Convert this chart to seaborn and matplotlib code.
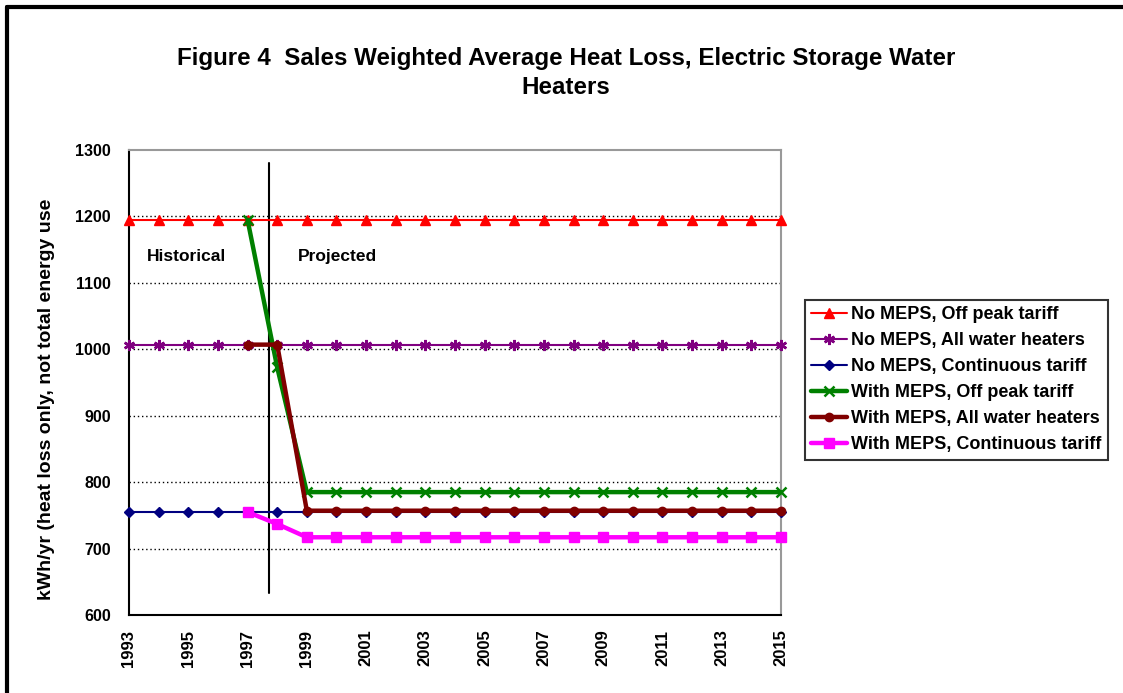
import numpy as np
import pandas as pd
import matplotlib
matplotlib.use("Agg")
import matplotlib.pyplot as plt
from matplotlib.lines import Line2D
import seaborn as sns

# Years covered by the chart
years = list(range(1993, 2016))

# Sales weighted average heat loss, kWh/yr
no_meps_off_peak = [1195] * 23
no_meps_all = [1007] * 23
no_meps_continuous = [755] * 23
with_meps_off_peak = [np.nan] * 4 + [1195, 973] + [785] * 17
with_meps_all = [np.nan] * 4 + [1007, 1007] + [757] * 17
with_meps_continuous = [np.nan] * 4 + [755, 737] + [717] * 17

series_labels = [
    "No MEPS, Off peak tariff",
    "No MEPS, All water heaters",
    "No MEPS, Continuous tariff",
    "With MEPS, Off peak tariff",
    "With MEPS, All water heaters",
    "With MEPS, Continuous tariff",
]
series_values = [no_meps_off_peak, no_meps_all, no_meps_continuous,
                 with_meps_off_peak, with_meps_all, with_meps_continuous]
series_colors = ["#FF0000", "#800080", "#000080", "#008000", "#800000", "#FF00FF"]
series_markers = ["^", (6, 2, 0), "D", "x", "o", "s"]
series_msize = [7, 8, 5, 7, 6, 7]
series_lw = [1.5, 1.5, 1.5, 3.2, 3.2, 3.2]

title = "Figure 4  Sales Weighted Average Heat Loss, Electric Storage Water\nHeaters"
ylabel = "kWh/yr (heat loss only, not total energy use"

sns.set_style("white")
plt.rcParams["font.family"] = ["Liberation Sans", "DejaVu Sans"]
plt.rcParams["font.weight"] = "bold"
plt.rcParams["text.color"] = "black"
plt.rcParams["xtick.color"] = "black"
plt.rcParams["ytick.color"] = "black"

W, H = 1123, 693
fig = plt.figure(figsize=(W / 100, H / 100), dpi=100)
ax = fig.add_axes([129 / W, 1 - 615 / H, (781 - 129) / W, (615 - 150) / H])

for lab, vals, col, mk, ms, lw in zip(series_labels, series_values, series_colors,
                                       series_markers, series_msize, series_lw):
    df = pd.DataFrame({"year": years, "value": vals}).dropna()
    sns.lineplot(data=df, x="year", y="value", ax=ax, color=col, marker=mk,
                 markersize=ms, linewidth=lw, markeredgecolor=col,
                 markeredgewidth=1.8 if mk in ("x", (6, 2, 0)) else 1,
                 label=lab, legend=False, clip_on=False, zorder=3)

ax.set_xlim(1993, 2015)
ax.set_ylim(600, 1300)
ax.set_xticks(years)
ax.set_xticklabels([str(y) if (y - 1993) % 2 == 0 else "" for y in years],
                   rotation=90, fontsize=12, fontweight="bold")
ax.set_yticks(range(600, 1301, 100))
ax.set_yticklabels([str(v) for v in range(600, 1301, 100)], fontsize=11.5, fontweight="bold")
ax.tick_params(axis="x", direction="inout", length=9, width=1.5, pad=6, colors="black")
ax.tick_params(axis="y", direction="out", length=5, width=1.5, pad=8, colors="black")
ax.set_xlabel("")
ax.set_ylabel("")

# Dotted horizontal gridlines
for v in range(700, 1300, 100):
    ax.axhline(v, color="black", linestyle=(0, (1, 2)), linewidth=1.0, zorder=1)

for side in ("left", "bottom"):
    ax.spines[side].set_color("black")
    ax.spines[side].set_linewidth(1.5)
ax.spines["top"].set_color("#999999")
ax.spines["top"].set_linewidth(1.5)
ax.spines["top"].set_linestyle((0, (2, 1)))
ax.spines["right"].set_color("#999999")
ax.spines["right"].set_linewidth(1.5)

# Divider between historical and projected periods
ax.plot([1997.73, 1997.73], [633, 1280], color="black", linewidth=1.5, zorder=2)
ax.text(1993.6, 1139, "Historical", fontsize=12.5, fontweight="bold", va="center", ha="left")
ax.text(1998.7, 1140, "Projected", fontsize=12.5, fontweight="bold", va="center", ha="left")

fig.text(566 / W, 1 - 73 / H, title, ha="center", va="center", fontsize=17.4,
         fontweight="bold", linespacing=1.3)
fig.text(47 / W, 1 - 600 / H, ylabel, rotation=90, ha="center", va="bottom",
         fontsize=14, fontweight="bold")

handles, labels = ax.get_legend_handles_labels()
leg = fig.legend(handles, labels, loc="upper left",
                 bbox_to_anchor=(805 / W, 1 - 300 / H), borderaxespad=0,
                 frameon=True, fancybox=False, edgecolor="black",
                 fontsize=13, handlelength=2.0, handletextpad=0.2,
                 labelspacing=0.5, borderpad=0.35)
leg.get_frame().set_linewidth(1.5)
for t in leg.get_texts():
    t.set_fontweight("bold")
    t.set_color("black")

# Outer figure frame (left and top edges)
fig.add_artist(Line2D([7 / W, 7 / W], [-0.1, 1 - 7 / H], color="black", linewidth=3,
                      transform=fig.transFigure))
fig.add_artist(Line2D([7 / W, 1.1], [1 - 7 / H, 1 - 7 / H], color="black", linewidth=3,
                      transform=fig.transFigure))

fig.savefig("out.png", dpi=100)
